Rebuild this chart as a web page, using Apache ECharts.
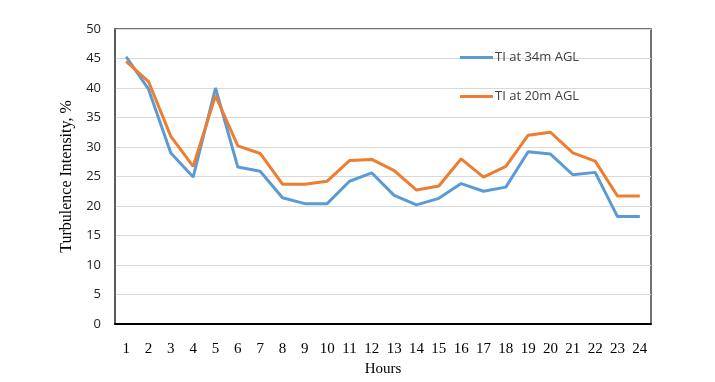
<!DOCTYPE html>
<html>
<head>
<meta charset="utf-8">
<script src="https://cdn.jsdelivr.net/npm/echarts@6/dist/echarts.min.js"></script>
<style>
  html, body { margin: 0; padding: 0; background: #fff; }
  #chart { width: 715px; height: 382px; }
</style>
</head>
<body>
<div id="chart"></div>
<script>
const hours = ['1','2','3','4','5','6','7','8','9','10','11','12','13','14','15','16','17','18','19','20','21','22','23','24']
const ti34 = [45.3, 39.8, 29.0, 24.9, 40.0, 26.6, 25.9, 21.4, 20.4, 20.4, 24.2, 25.6, 21.8, 20.2, 21.3, 23.8, 22.5, 23.2, 29.2, 28.8, 25.3, 25.7, 18.2, 18.2]
const ti20 = [44.5, 41.1, 31.8, 26.7, 38.7, 30.2, 28.9, 23.7, 23.7, 24.2, 27.7, 27.9, 26.0, 22.7, 23.4, 28.0, 24.9, 26.7, 32.0, 32.5, 29.0, 27.6, 21.7, 21.7]

const myChart = echarts.init(document.getElementById('chart'))

const option = {
  animation: false,
  legend: {
    orient: 'vertical',
    left: 455,
    top: 46,
    itemGap: 26,
    itemWidth: 33,
    itemHeight: 3,
    icon: 'rect',
    textStyle: { fontFamily: 'Open Sans', fontSize: 13, color: '#404040', padding: [0, 0, 0, -3] },
    data: ['TI at 34m AGL', 'TI at 20m AGL']
  },
  grid: {
    left: 115, right: 64, top: 29, bottom: 57,
    show: true, borderColor: '#444', borderWidth: 1.5
  },
  xAxis: {
    type: 'category',
    data: hours,
    boundaryGap: true,
    name: 'Hours',
    nameLocation: 'middle',
    nameGap: 38,
    nameTextStyle: { fontFamily: 'Liberation Serif', fontSize: 15, color: '#000' },
    axisLine: { lineStyle: { color: '#000', width: 2 } },
    axisTick: { show: false },
    axisLabel: { fontFamily: 'Liberation Serif', fontSize: 15, color: '#000', margin: 18 }
  },
  yAxis: {
    type: 'value',
    min: 0, max: 50, interval: 5,
    name: 'Turbulence Intensity, %',
    nameLocation: 'middle',
    nameGap: 39,
    nameTextStyle: { fontFamily: 'Liberation Serif', fontSize: 16, color: '#000' },
    axisLine: { show: true, lineStyle: { color: '#555', width: 1.5 } },
    axisTick: { show: false },
    axisLabel: { fontFamily: 'Open Sans', fontSize: 13, color: '#222', margin: 14 },
    splitLine: { lineStyle: { color: '#d9d9d9', width: 1 } }
  },
  series: [
    {
      name: 'TI at 34m AGL',
      type: 'line',
      data: ti34,
      symbol: 'none',
      itemStyle: { color: '#5b9bd5' },
      lineStyle: { color: '#5b9bd5', width: 3 }
    },
    {
      name: 'TI at 20m AGL',
      type: 'line',
      data: ti20,
      symbol: 'none',
      itemStyle: { color: '#ed7d31' },
      lineStyle: { color: '#ed7d31', width: 3 }
    }
  ]
}

myChart.setOption(option)
window.addEventListener('resize', () => myChart.resize())
</script>
</body>
</html>
